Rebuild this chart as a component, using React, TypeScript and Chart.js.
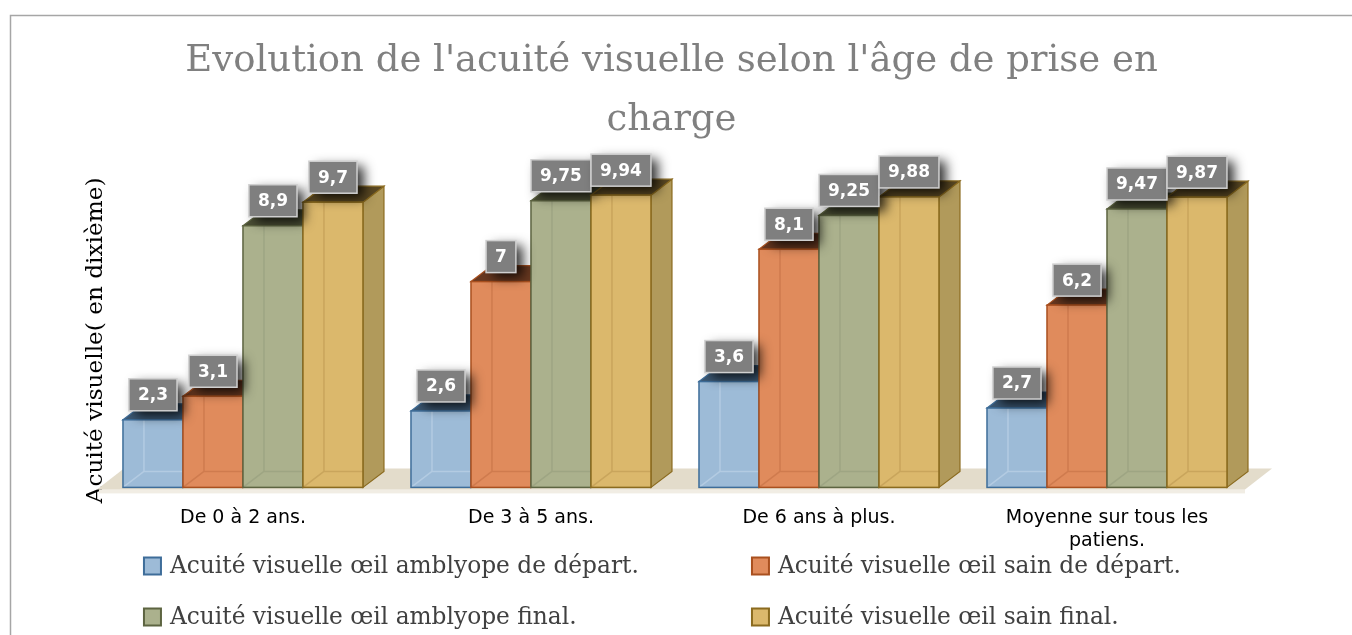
import React, { useEffect, useRef } from 'react';
import { Chart, registerables } from 'chart.js';

Chart.register(...registerables);

// ---- data ----
const categories: (string | string[])[] = [
  'De 0 à 2 ans.',
  'De 3 à 5 ans.',
  'De 6 ans à plus.',
  ['Moyenne sur tous les', 'patiens.'],
];
const seriesNames = [
  'Acuité visuelle œil amblyope de départ.',
  'Acuité visuelle œil sain de départ.',
  'Acuité visuelle œil amblyope final.',
  'Acuité visuelle œil sain final.',
];
const amblyopeDepart = [2.3, 2.6, 3.6, 2.7];
const sainDepart = [3.1, 7, 8.1, 6.2];
const amblyopeFinal = [8.9, 9.75, 9.25, 9.47];
const sainFinal = [9.7, 9.94, 9.88, 9.87];
const yMin = 0;
const yMax = 10;
const titleLines = ["Evolution de l'acuité visuelle selon l'âge de prise en", 'charge'];
const yAxisTitle = 'Acuité visuelle( en dixième)';

// ---- styles ----
const faceColors = ['#9dbbd7', '#e08b5c', '#abb18d', '#dbb86c'];
const edgeColors = ['#3e6d99', '#a9501f', '#5d6441', '#8b6b1f'];
const topColors = ['#3c5873', '#683820', '#4b4f35', '#5a4823'];
const sideColors = ['#7f9cba', '#c2724a', '#8e9575', '#b19a5b'];
const innerColors = ['#b3cbe2', '#cf7b4e', '#9ea583', '#c9a55c'];
const DEPTH_X = 21;
const DEPTH_Y = 16;

const fmt = (v: number) => String(v).replace('.', ',');

const bars3d = {
  id: 'bars3d',
  beforeDraw(chart: any) {
    const { ctx, width, height } = chart;
    ctx.save();
    ctx.fillStyle = '#ffffff';
    ctx.fillRect(0, 0, width, height);
    ctx.strokeStyle = '#a6a6a6';
    ctx.lineWidth = 1.5;
    ctx.strokeRect(10.5, 15.5, width + 50, height + 50);
    ctx.restore();
  },
  beforeDatasetsDraw(chart: any) {
    const ctx = chart.ctx;
    const area = chart.chartArea;
    const yScale = chart.scales.y;
    const zero = yScale.getPixelForValue(0);
    ctx.save();
    // floor
    const fl = area.left - 2;
    const fr = area.right - 6;
    const fy = zero + 2;
    const fdx = 27;
    const fdy = 21;
    ctx.fillStyle = '#f1ede4';
    ctx.fillRect(fl + 2, fy, fr - fl - 2, 4);
    ctx.beginPath();
    ctx.moveTo(fl, fy);
    ctx.lineTo(fl + fdx, fy - fdy);
    ctx.lineTo(fr + fdx, fy - fdy);
    ctx.lineTo(fr, fy);
    ctx.closePath();
    ctx.fillStyle = '#e3dccb';
    ctx.fill();

    const nCat = chart.data.labels.length;
    const nDs = chart.data.datasets.length;
    for (let i = 0; i < nCat; i++) {
      for (let d = 0; d < nDs; d++) {
        const el = chart.getDatasetMeta(d).data[i];
        const { x, y, base, width } = el.getProps(['x', 'y', 'base', 'width'], true);
        const x0 = x - width / 2;
        const x1 = x + width / 2;
        const top = y;
        // side face
        ctx.beginPath();
        ctx.moveTo(x1, top);
        ctx.lineTo(x1 + DEPTH_X, top - DEPTH_Y);
        ctx.lineTo(x1 + DEPTH_X, base - DEPTH_Y);
        ctx.lineTo(x1, base);
        ctx.closePath();
        ctx.fillStyle = sideColors[d];
        ctx.fill();
        ctx.strokeStyle = edgeColors[d];
        ctx.lineWidth = 1.2;
        ctx.stroke();
        // top face
        ctx.beginPath();
        ctx.moveTo(x0, top);
        ctx.lineTo(x0 + DEPTH_X, top - DEPTH_Y);
        ctx.lineTo(x1 + DEPTH_X, top - DEPTH_Y);
        ctx.lineTo(x1, top);
        ctx.closePath();
        ctx.fillStyle = topColors[d];
        ctx.fill();
        ctx.stroke();
        // front face
        ctx.fillStyle = faceColors[d];
        ctx.fillRect(x0, top, width, base - top);
        // inner back edges
        ctx.beginPath();
        ctx.moveTo(x0 + DEPTH_X, top);
        ctx.lineTo(x0 + DEPTH_X, base - DEPTH_Y);
        ctx.lineTo(x1, base - DEPTH_Y);
        ctx.moveTo(x0, base);
        ctx.lineTo(x0 + DEPTH_X, base - DEPTH_Y);
        ctx.strokeStyle = innerColors[d];
        ctx.lineWidth = 1.5;
        ctx.stroke();
        // front outline
        ctx.strokeStyle = edgeColors[d];
        ctx.lineWidth = 1.5;
        ctx.strokeRect(x0, top, width, base - top);
      }
    }

    // data labels
    ctx.font = 'bold 17px "DejaVu Sans"';
    ctx.textAlign = 'center';
    ctx.textBaseline = 'middle';
    for (let i = 0; i < nCat; i++) {
      for (let d = 0; d < nDs; d++) {
        const el = chart.getDatasetMeta(d).data[i];
        const { x, y } = el.getProps(['x', 'y'], true);
        const txt = fmt(chart.data.datasets[d].data[i]);
        const tw = ctx.measureText(txt).width;
        const bw = tw + 18;
        const bh = 32;
        const bx = x - bw / 2;
        const by = y - 9 - bh;
        ctx.save();
        ctx.shadowColor = 'rgba(0,0,0,0.8)';
        ctx.shadowBlur = 12;
        ctx.shadowOffsetX = 7;
        ctx.shadowOffsetY = 5;
        ctx.fillStyle = '#7f7f7f';
        ctx.fillRect(bx, by, bw, bh);
        ctx.restore();
        ctx.strokeStyle = '#d0d0d0';
        ctx.lineWidth = 1.5;
        ctx.strokeRect(bx, by, bw, bh);
        ctx.fillStyle = '#ffffff';
        ctx.fillText(txt, x, by + bh / 2 + 1);
      }
    }
    ctx.restore();
    return false;
  },
  afterDraw(chart: any) {
    const ctx = chart.ctx;
    const area = chart.chartArea;
    const cols = [area.left + 45, area.left + 653];
    const rows = [566, 617];
    const order = [0, 2, 1, 3];
    ctx.save();
    ctx.font = '23.3px "DejaVu Serif"';
    ctx.textBaseline = 'middle';
    ctx.textAlign = 'left';
    order.forEach((d, k) => {
      const cx = cols[Math.floor(k / 2)];
      const cy = rows[k % 2];
      ctx.fillStyle = faceColors[d];
      ctx.fillRect(cx, cy - 8.5, 17, 17);
      ctx.strokeStyle = edgeColors[d];
      ctx.lineWidth = 2;
      ctx.strokeRect(cx, cy - 8.5, 17, 17);
      ctx.fillStyle = '#404040';
      ctx.fillText(chart.data.datasets[d].label, cx + 26, cy + 1);
    });
    ctx.restore();
  },
};

export default function App() {
  const ref = useRef<HTMLCanvasElement | null>(null);
  useEffect(() => {
    if (!ref.current) return;
    const series = [amblyopeDepart, sainDepart, amblyopeFinal, sainFinal];
    const chart = new Chart(ref.current, {
      type: 'bar',
      data: {
        labels: categories as any,
        datasets: series.map((s, d) => ({
          label: seriesNames[d],
          data: s,
          backgroundColor: faceColors[d],
          borderColor: edgeColors[d],
          borderWidth: 1,
          barPercentage: 1,
          categoryPercentage: 0.8333,
        })),
      },
      options: {
        responsive: false,
        animation: false,
        layout: { padding: { left: 92, right: 101, top: 0, bottom: 64 } },
        plugins: {
          legend: { display: false },
          tooltip: { enabled: false },
          title: {
            display: true,
            text: titleLines,
            color: '#808080',
            font: { family: '"DejaVu Serif"', size: 37, weight: 'normal', lineHeight: 1.6 },
            padding: { top: 32, bottom: 43 },
          },
        },
        scales: {
          x: {
            grid: { display: false, drawTicks: false },
            border: { display: false },
            ticks: {
              color: '#000000',
              font: { family: '"DejaVu Sans"', size: 19, lineHeight: 1.2 },
              padding: 19,
              maxRotation: 0,
              autoSkip: false,
            },
          },
          y: {
            min: yMin,
            max: yMax,
            grid: { display: false, drawTicks: false },
            border: { display: false },
            ticks: { display: false },
            title: {
              display: true,
              text: yAxisTitle,
              color: '#000000',
              font: { family: '"DejaVu Serif"', size: 23.2, lineHeight: 0.3 },
              padding: 0,
            },
          },
        },
      },
      plugins: [bars3d],
    });
    return () => chart.destroy();
  }, []);
  return (
    <div style={{ position: 'absolute', left: 0, top: 0, width: 1352, height: 635, overflow: 'hidden' }}>
      <canvas ref={ref} width={1352} height={635} style={{ display: 'block' }} />
    </div>
  );
}
